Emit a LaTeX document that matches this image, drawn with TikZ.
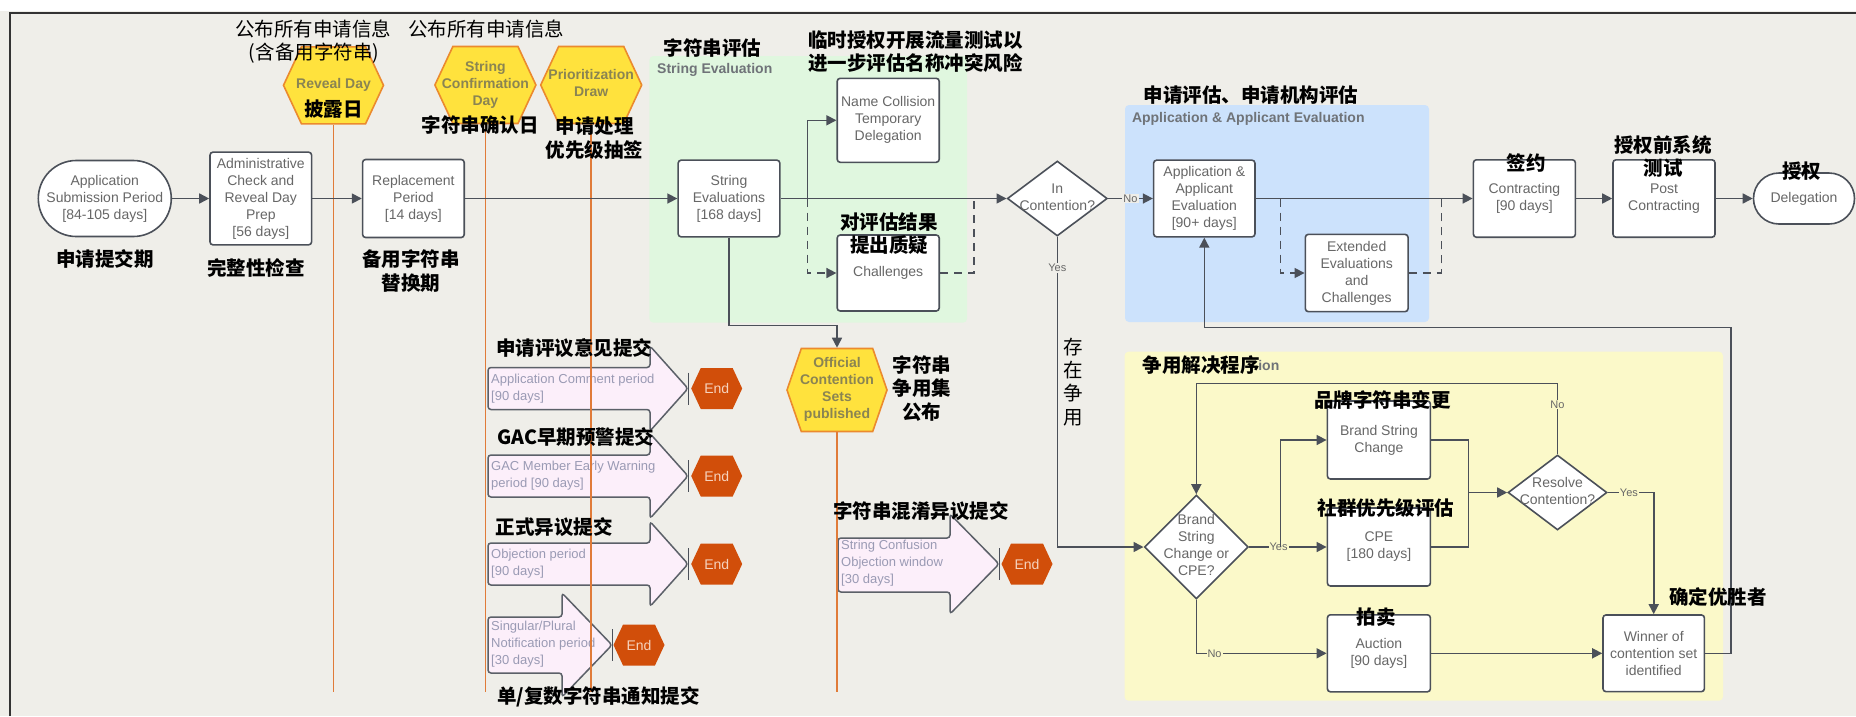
\documentclass[tikz,border=0pt]{standalone}
\usepackage{fontspec}
\setmainfont{Liberation Sans}
\newfontfamily\cjk{Noto Sans CJK SC}
\usetikzlibrary{arrows.meta,shapes.geometric,shapes.symbols}

\definecolor{canvas}{HTML}{EFEEE9}
\definecolor{edge}{HTML}{4B5059}
\definecolor{boxtext}{HTML}{676767}
\definecolor{hexfill}{HTML}{FFE23D}
\definecolor{hexedge}{HTML}{EB8A2E}
\definecolor{hextext}{HTML}{8A8452}
\definecolor{orangeline}{HTML}{E07B39}
\definecolor{endfill}{HTML}{D14E0A}
\definecolor{endtext}{HTML}{F6D3BE}
\definecolor{winfill}{HTML}{FCEFFA}
\definecolor{winedge}{HTML}{5B6068}
\definecolor{wintext}{HTML}{9A9AB4}
\definecolor{evalgreen}{HTML}{E0F7DF}
\definecolor{evalblue}{HTML}{CCE2FC}
\definecolor{evalyellow}{HTML}{FBF9C9}
\definecolor{areatext}{HTML}{6F7378}

\newcommand{\stacked}[1]{\makebox[0pt]{\begin{tabular}{@{}c@{}}#1\end{tabular}}}

\begin{document}
\begin{tikzpicture}[x=1pt,y=-1pt,
  stage/.style={draw=edge, fill=white, line width=1.6pt, rounded corners=3pt, align=center, inner sep=0pt, text=boxtext, font=\fontsize{14}{17}\selectfont},
  term/.style={stage, rounded corners=#1},
  ask/.style={diamond, draw=edge, fill=white, line width=1.6pt, inner sep=0pt, text=boxtext, font=\fontsize{14}{17}\selectfont},
  milestone/.style={shape=signal, signal to=east and west, signal pointer angle=130, draw=hexedge, fill=hexfill, line width=1.6pt, inner sep=0pt, text=hextext, font=\bfseries\fontsize{14}{17}\selectfont, minimum width=101pt, minimum height=77pt},
  stopnode/.style={shape=signal, signal to=east and west, signal pointer angle=130, fill=endfill, inner sep=0pt, text=endtext, font=\fontsize{14}{17}\selectfont, minimum width=51pt, minimum height=41pt},
  flow/.style={draw=edge, line width=1.6pt, -{Triangle[length=10pt,width=10pt]}},
  track/.style={draw=edge, line width=1.6pt},
  dashes/.style={dash pattern=on 8pt off 6pt},
  lifeline/.style={draw=orangeline, line width=1.8pt},
  window/.style={draw=winedge, fill=winfill, line width=1.5pt, rounded corners=3pt},
  windowtext/.style={anchor=west, align=left, inner sep=0pt, text=wintext, font=\fontsize{13}{17}\selectfont},
  tipbar/.style={draw=edge, line width=1.6pt},
  tag/.style={inner sep=1pt, text=boxtext, font=\fontsize{11}{13}\selectfont},
  zh/.style={inner sep=0pt, align=center, font=\cjk\bfseries\fontsize{19.5}{23.4}\selectfont},
  zhplain/.style={inner sep=0pt, align=center, font=\cjk\fontsize{19.5}{23.4}\selectfont},
  areatitle/.style={anchor=west, inner sep=0pt, text=areatext, font=\bfseries\fontsize{14}{17}\selectfont}]

\useasboundingbox (0,0) rectangle (1856,716);
\fill[canvas] (0,0) rectangle (1856,716);
\fill[white] (0,0) rectangle (1856,11);
\draw[line width=2pt, black!80] (9.5,716) -- (9.5,12.7) -- (1856,12.7);

% phase areas
\fill[evalgreen, rounded corners=4pt] (649.4,56) rectangle (967,322.7);
\fill[evalblue, rounded corners=4pt] (1125,105) rectangle (1429,322);
\fill[evalyellow, rounded corners=4pt] (1124.5,351.7) rectangle (1723,700.7);
\node[areatitle] (strevaltitle) at (657,70) {String Evaluation};
\node[areatitle] (appevaltitle) at (1131.8,119) {Application \& Applicant Evaluation};
\node[areatitle] (resolvetitle) at (1129,365) {Contention Resolution};
\fill[evalyellow] (1127,353) rectangle (1259,377);

% comment and objection windows
\foreach \yc/\nm/\txt in {388.5/cmt/{Application Comment period\\{}[90 days]},
                          476/gac/{GAC Member Early Warning\\period [90 days]},
                          564/obj/{Objection period\\{}[90 days]}}{
  \draw[window] (488,\yc-21) -- (650,\yc-21) -- (650,\yc-42.5) -- (688,\yc) -- (650,\yc+42.5) -- (650,\yc+21) -- (488,\yc+21) -- cycle;
  \node[windowtext] (\nm) at (491,\yc) {\txt};
  \draw[tipbar] (688.5,\yc-16) -- (688.5,\yc+16);
  \node[stopnode] (\nm-end) at (716.7,\yc) {End};
}
\draw[window] (488,617) -- (562,617) -- (562,593) -- (612,645) -- (562,697) -- (562,673) -- (488,673) -- cycle;
\node[windowtext] (plural) at (491,644) {Singular/Plural\\Notification period\\{}[30 days]};
\draw[tipbar] (612.5,629) -- (612.5,661);
\node[stopnode] (plural-end) at (639,645) {End};
\draw[window] (838,538) -- (950,538) -- (950,514) -- (999,564) -- (950,614) -- (950,592) -- (838,592) -- cycle;
\node[windowtext] (confusion) at (841,563) {String Confusion\\Objection window\\{}[30 days]};
\draw[tipbar] (999.5,548) -- (999.5,580);
\node[stopnode] (confusion-end) at (1027,564) {End};

% milestones
\node[milestone, minimum width=100pt] (reveal) at (333.5,85.3) {\stacked{Reveal Day}};
\node[milestone] (strconf) at (485.4,85) {\stacked{String\\Confirmation\\Day}};
\node[milestone] (prior) at (591.2,85) {\stacked{Prioritization\\Draw}};
\node[milestone, minimum width=100pt, minimum height=83pt, signal pointer angle=142] (official) at (837,390) {\stacked{Official\\Contention\\Sets\\published}};
\coordinate (floor) at (0,691.7);
\foreach \m in {reveal,strconf,prior,official}
  \draw[lifeline] (\m.south) -- (\m.south |- floor);

% main row
\node[term=38pt, minimum width=133pt, minimum height=76pt] (submit) at (104.8,198.5) {Application\\Submission Period\\{}[84-105 days]};
\node[stage, minimum width=101.6pt, minimum height=92.7pt] (admin) at (260.8,198.5) {Administrative\\Check and\\Reveal Day\\Prep\\{}[56 days]};
\node[stage, minimum width=101.6pt, minimum height=78pt] (replace) at (413.4,198.5) {Replacement\\Period\\{}[14 days]};
\node[stage, minimum width=101.7pt, minimum height=76.7pt] (streval) at (729,198.5) {String\\Evaluations\\{}[168 days]};
\node[stage, minimum width=102pt, minimum height=84pt] (collision) at (888.2,120.3) {Name Collision\\Temporary\\Delegation};
\node[stage, minimum width=102pt, minimum height=76pt] (challenge) at (888.2,273) {Challenges};
\node[ask, minimum width=100pt, minimum height=75pt] (incont) at (1057.3,198.5) {\stacked{In\\Contention?}};
\node[stage, minimum width=101.3pt, minimum height=76.7pt] (appeval) at (1204.3,198.5) {Application \&\\Applicant\\Evaluation\\{}[90+ days]};
\node[stage, minimum width=102.7pt, minimum height=77.3pt] (extend) at (1356.7,273) {Extended\\Evaluations\\and\\Challenges};
\node[stage, minimum width=102pt, minimum height=77.4pt] (contract) at (1524.4,198.5) {Contracting\\{}[90 days]};
\node[stage, minimum width=102pt, minimum height=77.4pt] (post) at (1664,198.5) {Post\\Contracting};
\node[term=25.5pt, minimum width=101pt, minimum height=51pt] (deleg) at (1804,198.5) {Delegation};

% contention resolution
\node[ask, minimum width=104pt, minimum height=104pt] (brand) at (1196.3,547) {\stacked{Brand\\String\\Change or\\CPE?}};
\node[stage, minimum width=103pt, minimum height=78pt] (brandchg) at (1378.9,440) {Brand String\\Change};
\node[stage, minimum width=103pt, minimum height=78pt] (cpe) at (1378.9,547) {CPE\\{}[180 days]};
\node[stage, minimum width=103pt, minimum height=77pt] (auction) at (1378.9,653.3) {Auction\\{}[90 days]};
\node[ask, minimum width=99pt, minimum height=75pt] (resolve) at (1557.5,492.5) {\stacked{Resolve\\Contention?}};
\node[stage, minimum width=101.4pt, minimum height=76.7pt] (winner) at (1653.7,653.3) {Winner of\\contention set\\identified};

% connectors
\draw[flow] (submit) -- (admin);
\draw[flow] (admin) -- (replace);
\draw[flow] (replace) -- (streval);
\draw[flow] (streval) -- (incont);
\coordinate (fork1) at (807.6,198.5);
\draw[flow] (fork1) |- (collision.west);
\draw[flow, dashes] (fork1) |- (challenge.west);
\coordinate (join1) at (973.7,198.5);
\draw[track, dashes] (challenge.east) -| (join1);
\draw[flow] (streval.south) -- ++(0,88) -| (official.north);
\draw[flow] (incont) -- node[tag, fill=canvas]{No} (appeval);
\draw[flow] (incont.south) |- node[tag, fill=canvas, pos=0.05]{Yes} (brand.west);
\draw[flow] (appeval) -- (contract);
\coordinate (fork2) at (1280.6,198.5);
\draw[flow, dashes] (fork2) |- (extend.west);
\coordinate (join2) at (1441.3,198.5);
\draw[track, dashes] (extend.east) -| (join2);
\draw[flow] (contract) -- (post);
\draw[flow] (post) -- (deleg);

\draw[flow] (brand) -- node[tag, fill=evalyellow, pos=0.38]{Yes} (cpe);
\coordinate (fork3) at (1280.4,547);
\draw[flow] (fork3) |- (brandchg.west);
\draw[flow] (brand.south) |- node[tag, fill=evalyellow, pos=0.57]{No} (auction.west);
\coordinate (merge) at (1468.4,492.5);
\draw[track] (brandchg.east) -| (merge);
\draw[track] (cpe.east) -| (merge);
\draw[flow] (merge) -- (resolve.west);
\coordinate (retry) at (0,383.3);
\draw[flow] (resolve.north) -- node[tag, fill=evalyellow, pos=0.7]{No} (resolve.north |- retry) -| (brand.north);
\draw[flow] (resolve.east) -| node[tag, fill=evalyellow, pos=0.23]{Yes} (winner.north);
\draw[flow] (auction) -- (winner);
\coordinate (backtrack) at (1730.7,327.3);
\draw[flow] (winner.east) -| (backtrack) -| (appeval.south);

% Chinese annotations
\node[zhplain] (publish1) at (313,29.3) {公布所有申请信息};
\node[zhplain] (publish1b) at (314,53.3) {(含备用字符串)};
\node[zhplain] (publish2) at (486,29.3) {公布所有申请信息};
\node[zh] (submitzh) at (104.8,259) {申请提交期};
\node[zh] (adminzh) at (255.8,267.7) {完整性检查};
\node[zh] (replacezh) at (411,271) {备用字符串\\替换期};
\node[zh] (revealzh) at (333.5,109) {披露日};
\node[zh] (strconfzh) at (480,125) {字符串确认日};
\node[zh] (priorzh) at (594.5,138) {申请处理\\优先级抽签};
\node[zh] (strevalzh) at (712.5,48.3) {字符串评估};
\node[zh] (collisionzh) at (915.7,51.7) {临时授权开展流量测试以\\进一步评估名称冲突风险};
\node[zh] (challengezh) at (889,233.3) {对评估结果\\提出质疑};
\node[zh] (appevalzh) at (1251,95) {申请评估、申请机构评估};
\node[zh] (contractzh) at (1526,163.3) {签约};
\node[zh] (postzh) at (1663,156.7) {授权前系统\\测试};
\node[zh] (delegzh) at (1801.5,170.7) {授权};
\node[zh] (cmtzh) at (574,348.3) {申请评议意见提交};
\node[zh] (gaczh) at (575.7,437.3) {GAC早期预警提交};
\node[zh] (objzh) at (554,526.7) {正式异议提交};
\node[zh] (pluralzh) at (598.6,696.7) {单/复数字符串通知提交};
\node[zh] (officialzh) at (921.8,388.3) {字符串\\争用集\\公布};
\node[zh] (confusionzh) at (921,510.7) {字符串混淆异议提交};
\node[zhplain, font=\cjk\fontsize{19.5}{23.3}\selectfont] (contendzh) at (1073.3,381.7) {存\\在\\争\\用};
\node[zh] (resolvezh) at (1201,365) {争用解决程序};
\node[zh] (brandchgzh) at (1382.3,400) {品牌字符串变更};
\node[zh] (cpezh) at (1385.8,508.3) {社群优先级评估};
\node[zh] (auctionzh) at (1376,616.7) {拍卖};
\node[zh] (winnerzh) at (1717.8,596.7) {确定优胜者};
\end{tikzpicture}
\end{document}
